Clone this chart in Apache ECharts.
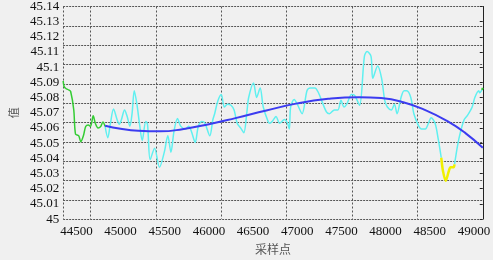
<!DOCTYPE html>
<html>
<head>
<meta charset="utf-8">
<script src="https://cdn.jsdelivr.net/npm/echarts@6/dist/echarts.min.js"></script>
<style>
    html, body { margin: 0; padding: 0; background: #f0f0f0; }
    #chart { width: 493px; height: 260px; }
</style>
</head>
<body>
<div id="chart"></div>
<script>
// x 轴刻度
var xTicks = [44500, 45000, 45500, 46000, 46500, 47000, 47500, 48000, 48500, 49000];

// 起始段（绿色）
var greenX = [44350, 44360, 44380, 44415, 44435, 44470, 44490, 44525, 44550, 44580, 44605, 44635, 44660, 44690, 44715, 44745, 44775, 44800, 44825];
var greenY = [45.091, 45.0875, 45.086, 45.085, 45.084, 45.072, 45.056, 45.055, 45.051, 45.055, 45.061, 45.062, 45.061, 45.068, 45.063, 45.060, 45.061, 45.064, 45.061];

// 主体信号（青色）
var cyanX = [44825, 44855, 44885, 44920, 44960, 44985, 45010, 45045, 45075, 45105, 45130, 45155, 45185, 45215, 45245, 45285, 45305, 45335, 45385, 45440,
    45495, 45535, 45570, 45605, 45645, 45680, 45735, 45770, 45800, 45845, 45880, 45920, 45955, 46010, 46045, 46065, 46100, 46140, 46175, 46210,
    46250, 46285, 46320, 46360, 46395, 46430, 46450, 46505, 46540, 46580, 46615, 46670, 46690, 46725, 46760, 46800, 46855, 46890, 46910, 46925,
    46965, 47000, 47055, 47110, 47145, 47200, 47240, 47275, 47330, 47365, 47420, 47460, 47495, 47530, 47560, 47615, 47650, 47705, 47760, 47790,
    47835, 47855, 47910, 47955, 47990, 48020, 48065, 48100, 48130, 48175, 48210, 48240, 48285, 48320, 48375, 48405, 48450, 48485, 48515, 48560,
    48595, 48630];
var cyanY = [45.061, 45.0536, 45.063, 45.0725, 45.0656, 45.0624, 45.0656, 45.0719, 45.0675, 45.0612, 45.0694, 45.0845, 45.0757, 45.0624, 45.0517, 45.0643, 45.0624, 45.0391, 45.0467, 45.0341,
    45.0441, 45.0549, 45.0441, 45.058, 45.0662, 45.0612, 45.0593, 45.0612, 45.058, 45.0505, 45.0612, 45.0643, 45.0631, 45.0549, 45.0656, 45.0694, 45.0776, 45.082, 45.0738, 45.0757,
    45.075, 45.0719, 45.0631, 45.0599, 45.0568, 45.0706, 45.0801, 45.0896, 45.0801, 45.0864, 45.0738, 45.0643, 45.0631, 45.065, 45.0675, 45.0631, 45.0656, 45.0631, 45.0593, 45.0738,
    45.0788, 45.0757, 45.0694, 45.0845, 45.0864, 45.0864, 45.0832, 45.0782, 45.0706, 45.0694, 45.0719, 45.0719, 45.0782, 45.0738, 45.0757, 45.082, 45.0814, 45.075, 45.1072, 45.1104,
    45.1072, 45.0927, 45.1009, 45.0927, 45.0782, 45.0738, 45.0719, 45.0757, 45.0694, 45.0801, 45.0845, 45.0845, 45.0801, 45.0694, 45.0612, 45.0593, 45.0593, 45.0631, 45.0668, 45.0631,
    45.053, 45.0404];

// 低值段（黄色）
var yellowX = [48630, 48650, 48680, 48715, 48735, 48770, 48780];
var yellowY = [45.0404, 45.0315, 45.0252, 45.0315, 45.0341, 45.0341, 45.036];

// 末段（青色 + 绿色）
var cyan2X = [48780, 48815, 48845, 48890, 48925, 48980, 49010, 49055, 49065, 49090];
var cyan2Y = [45.036, 45.0486, 45.0568, 45.0656, 45.0681, 45.0738, 45.0801, 45.0845, 45.0832, 45.0851];
var green2X = [49090, 49100];
var green2Y = [45.0851, 45.0864];

// 拟合曲线（蓝色）
var fitX = [44825, 45000, 45200, 45450, 45700, 46000, 46300, 46650, 47000, 47350, 47700, 47950, 48200, 48450, 48700, 48900, 49100];
var fitY = [45.0615, 45.0595, 45.0582, 45.0578, 45.0592, 45.0625, 45.0665, 45.0715, 45.0762, 45.0792, 45.0803, 45.0797, 45.0770, 45.0718, 45.0645, 45.0568, 45.0470];

function pairs(xs, ys) {
    return xs.map(function (x, i) { return [x, ys[i]]; });
}

var chart = echarts.init(document.getElementById('chart'));
var labelFont = { color: '#111', fontFamily: 'Liberation Serif', fontSize: 13 };
var gridLine = function (type) {
    return { show: true, lineStyle: { color: '#555', width: 1, type: type } };
};

var option = {
    backgroundColor: '#f0f0f0',
    animation: false,
    grid: { left: 54, right: 7, top: 5, bottom: 33 },
    xAxis: [
        {
            type: 'value',
            min: 44350,
            max: 49100,
            name: '采样点',
            nameLocation: 'middle',
            nameGap: 20,
            nameTextStyle: { color: '#555', fontFamily: 'Noto Sans CJK SC', fontSize: 12 },
            axisLine: { show: false },
            axisTick: { show: false },
            splitLine: { show: false },
            axisLabel: Object.assign({
                margin: 6,
                customValues: xTicks,
                formatter: function (v) { return String(v); }
            }, labelFont)
        },
        {
            // 网格线（与刻度不对齐）
            type: 'value',
            inverse: true,
            min: 0,
            max: 6.416,
            interval: 1,
            axisLine: { show: false },
            axisTick: { show: false },
            axisLabel: { show: false },
            splitLine: gridLine([2, 2])
        }
    ],
    yAxis: [
        {
            type: 'value',
            min: 45,
            max: 45.14,
            interval: 0.01,
            name: '值',
            nameLocation: 'middle',
            nameGap: 40,
            nameRotate: 90,
            nameTextStyle: { color: '#555', fontFamily: 'Noto Sans CJK SC', fontSize: 11 },
            axisLine: { show: true, lineStyle: { color: '#222', width: 1 } },
            axisTick: { show: true, length: 3, lineStyle: { color: '#222' } },
            splitLine: { show: false },
            axisLabel: Object.assign({ margin: 4 }, labelFont)
        },
        {
            type: 'value',
            min: 0,
            max: 11,
            interval: 1,
            axisLine: { show: false },
            axisTick: { show: false },
            axisLabel: { show: false },
            splitLine: gridLine([2, 1])
        }
    ],
    series: [
        {
            name: '起始',
            type: 'line',
            showSymbol: false,
            smooth: 0.3,
            lineStyle: { color: '#33cc33', width: 1.5 },
            data: pairs(greenX, greenY)
        },
        {
            name: '信号',
            type: 'line',
            showSymbol: false,
            smooth: 0.3,
            lineStyle: { color: '#5ff0f0', width: 1.5 },
            data: pairs(cyanX, cyanY)
        },
        {
            name: '信号2',
            type: 'line',
            showSymbol: false,
            smooth: 0.3,
            lineStyle: { color: '#5ff0f0', width: 1.5 },
            data: pairs(cyan2X, cyan2Y)
        },
        {
            name: '低值',
            type: 'line',
            showSymbol: false,
            smooth: 0.3,
            lineStyle: { color: '#f0f000', width: 2.5 },
            data: pairs(yellowX, yellowY)
        },
        {
            name: '末段',
            type: 'line',
            showSymbol: false,
            lineStyle: { color: '#33cc33', width: 2 },
            data: pairs(green2X, green2Y)
        },
        {
            name: '拟合',
            type: 'line',
            showSymbol: false,
            smooth: true,
            lineStyle: { color: '#3c3cf0', width: 2 },
            data: pairs(fitX, fitY)
        }
    ]
};
chart.setOption(option);
</script>
</body>
</html>
